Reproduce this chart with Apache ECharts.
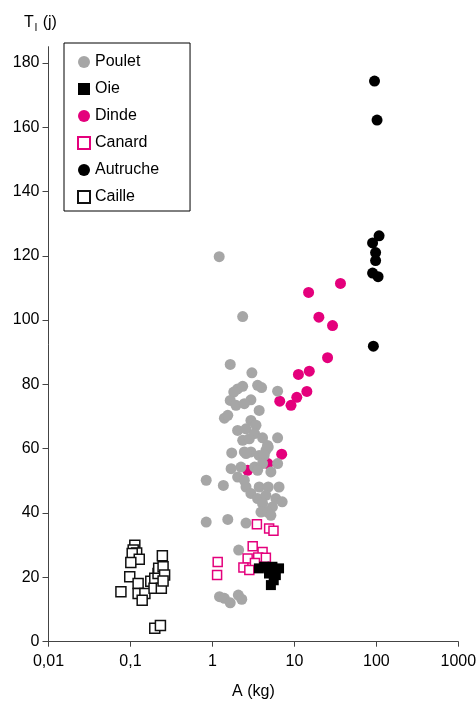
<!DOCTYPE html>
<html>
<head>
<meta charset="utf-8">
<script src="https://cdn.jsdelivr.net/npm/echarts@6.0.0/dist/echarts.min.js"></script>
<style>
	html, body { margin: 0; padding: 0; background: #fff; }
	#chart { width: 476px; height: 705px; }
</style>
</head>
<body>
<div id="chart"></div>
<script>
// legend order
var especes = ["Poulet", "Oie", "Dinde", "Canard", "Autruche", "Caille"];
var yTicks = [0, 20, 40, 60, 80, 100, 120, 140, 160, 180];

// A (kg) / T (j) par espece
var pouletA = [1.21, 2.34, 1.65, 3.03, 6.24, 2.03, 2.34, 1.82, 3.56, 3.98, 1.65, 1.94, 2.95, 2.45, 3.72, 1.40, 1.54, 2.95, 3.40, 2.03,
	2.57, 2.34, 3.27, 4.09, 6.24, 2.82, 4.80, 1.72, 2.45, 2.95, 4.49, 3.72, 4.70, 2.57, 4.28, 4.09, 6.24, 1.69, 2.23, 3.27,
	3.56, 5.17, 2.03, 2.45, 0.84, 1.36, 2.57, 3.72, 4.80, 6.5, 2.95, 3.56, 4.49, 5.94, 7.1, 4.09, 5.4, 3.91, 4.7, 5.17,
	0.84, 1.54, 2.57, 2.09, 1.22, 1.40, 1.65, 2.07, 2.28];
var pouletT = [119.7, 101.1, 86.2, 83.6, 77.9, 78.6, 79.4, 77.6, 79.7, 79.0, 75.0, 73.5, 75.2, 74.0, 71.9, 69.5, 70.4, 68.8, 67.3, 65.7,
	66.2, 62.6, 64.7, 63.4, 63.4, 63.1, 60.5, 58.7, 59.0, 59.0, 59.5, 57.9, 61.0, 58.5, 57.9, 55.4, 55.4, 53.8, 54.3, 54.3,
	53.3, 52.8, 51.2, 50.2, 50.2, 48.6, 48.1, 48.1, 48.1, 48.1, 46.1, 44.5, 45.5, 44.5, 43.5, 43.0, 41.9, 40.3, 40.3, 39.3,
	37.2, 38.0, 36.9, 28.5, 14.0, 13.5, 12.1, 14.5, 13.2];

var dindeA = [36.5, 14.9, 19.9, 29.2, 25.4, 11.2, 15.2, 14.2, 10.7, 6.63, 9.1, 7.0, 4.75, 2.69];
var dindeT = [111.4, 108.6, 100.9, 98.3, 88.3, 83.1, 84.1, 77.8, 76.0, 74.8, 73.5, 58.3, 55.4, 53.3];

var autrucheA = [95, 102, 108, 90, 98, 98, 90, 105, 92];
var autrucheT = [174.3, 162.2, 126.2, 124.0, 121.0, 118.5, 114.6, 113.5, 91.9];

var oieA = [4.28, 5.4, 6.5, 4.9, 5.94, 5.6, 5.17, 3.69];
var oieT = [23.3, 23.3, 22.8, 21.2, 20.7, 19.1, 17.6, 22.8];

var canardA = [3.49, 4.92, 5.56, 3.10, 4.09, 2.69, 3.62, 4.49, 3.30, 2.39, 2.82, 1.16, 1.14];
var canardT = [36.5, 35.2, 34.5, 29.7, 27.9, 25.9, 26.2, 26.1, 24.5, 23.1, 22.3, 24.8, 20.7];

var cailleA = [0.113, 0.108, 0.119, 0.105, 0.128, 0.101, 0.245, 0.098, 0.124, 0.0765, 0.124, 0.150, 0.139, 0.177, 0.194, 0.198,
	0.217, 0.221, 0.250, 0.261, 0.238, 0.250, 0.198, 0.232];
var cailleT = [30.0, 28.5, 27.6, 27.4, 25.6, 24.6, 26.7, 20.2, 18.1, 15.5, 15.0, 15.0, 12.9, 18.8, 16.6, 19.7,
	21.2, 22.8, 23.3, 20.7, 16.6, 18.9, 4.2, 5.0];

var police = "Liberation Sans";

function paires(xs, ys) { //zip x / y
	var out = [];
	for(var i = 0; i < xs.length; i++) {
		out.push([xs[i], ys[i]]);
	}
	return out;
}

function serie(nom, xs, ys, symbol, taille, style) {
	style.opacity = 1;
	return {
		name: nom,
		type: 'scatter',
		symbol: symbol,
		symbolSize: taille,
		itemStyle: style,
		data: paires(xs, ys)
	};
}

var chart = echarts.init(document.getElementById('chart'), null, { renderer: 'canvas' });
var option = {
	animation: false,
	backgroundColor: '#fff',
	textStyle: { fontFamily: police },
	grid: { left: 48.5, right: 17.7, top: 46.7, bottom: 63.3, containLabel: false, outerBoundsMode: 'none' },
	title: {
		text: '{t|T}{s|l}{t| (j)}',
		left: 19,
		top: 8,
		textStyle: {
			fontWeight: 'normal',
			rich: {
				t: { fontSize: 16, fontFamily: police, fontWeight: 'normal', color: '#000' },
				s: { fontSize: 11, fontFamily: police, fontWeight: 'normal', color: '#000', padding: [9, 1, 0, 1] }
			}
		}
	},
	legend: {
		data: especes,
		orient: 'vertical',
		left: 64,
		top: 43,
		itemWidth: 12,
		itemHeight: 12,
		itemGap: 11,
		padding: [11, 31, 6, 13],
		borderColor: '#000',
		borderWidth: 1,
		textStyle: { fontSize: 16, fontFamily: police, color: '#000' }
	},
	xAxis: {
		type: 'log',
		logBase: 10,
		min: 0.01,
		max: 1000,
		name: 'A (kg)',
		nameLocation: 'middle',
		nameGap: 42,
		nameTextStyle: { fontSize: 16, fontFamily: police, color: '#000' },
		splitLine: { show: false },
		axisLine: { lineStyle: { color: '#444', width: 1 } },
		axisTick: { length: 5, lineStyle: { color: '#444' } },
		axisLabel: {
			fontSize: 16,
			color: '#000',
			margin: 12,
			formatter: function(v) {
				return String(+(+v).toPrecision(4)).replace('.', ',');
			}
		}
	},
	yAxis: {
		type: 'value',
		min: 0,
		max: 185,
		interval: 20,
		splitLine: { show: false },
		axisLine: { show: true, lineStyle: { color: '#444', width: 1 } },
		axisTick: { show: true, length: 6, customValues: yTicks, lineStyle: { color: '#444' } },
		axisLabel: { fontSize: 16, color: '#000', margin: 9, customValues: yTicks }
	},
	series: [
		serie('Dinde', dindeA, dindeT, 'circle', 11, { color: '#e4007c' }),
		serie('Poulet', pouletA, pouletT, 'circle', 11, { color: '#a6a6a6' }),
		serie('Canard', canardA, canardT, 'rect', 9, { color: '#fff', borderColor: '#e4007c', borderWidth: 1.5 }),
		serie('Oie', oieA, oieT, 'rect', 10, { color: '#000' }),
		serie('Autruche', autrucheA, autrucheT, 'circle', 11, { color: '#000' }),
		serie('Caille', cailleA, cailleT, 'rect', 10, { color: '#fff', borderColor: '#111', borderWidth: 1.5 })
	]
};
chart.setOption(option);
</script>
</body>
</html>
